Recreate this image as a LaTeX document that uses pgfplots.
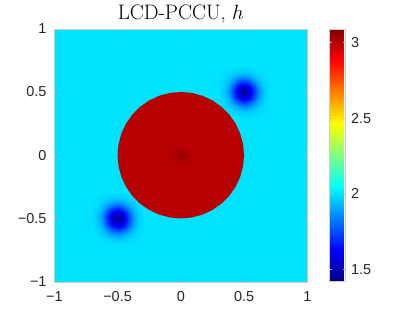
\documentclass[border=0pt]{standalone}
\usepackage{pgfplots}
\usepackage{pgfplotstable}
\pgfplotsset{compat=1.18}
\usepackage{fontspec}
\setsansfont{Liberation Sans}
\definecolor{diskred}{rgb}{0.7176,0,0}
\begin{document}
\begin{tikzpicture}
% Gaussian dip (offsets from its centre), value h
\pgfplotstableread{
dx dy h
-0.20 -0.20 2.000
-0.16 -0.20 2.000
-0.12 -0.20 1.998
-0.08 -0.20 1.995
-0.04 -0.20 1.991
0.00 -0.20 1.990
0.04 -0.20 1.991
0.08 -0.20 1.995
0.12 -0.20 1.998
0.16 -0.20 2.000
0.20 -0.20 2.000
-0.20 -0.16 2.000
-0.16 -0.16 1.997
-0.12 -0.16 1.990
-0.08 -0.16 1.978
-0.04 -0.16 1.964
0.00 -0.16 1.957
0.04 -0.16 1.964
0.08 -0.16 1.978
0.12 -0.16 1.990
0.16 -0.16 1.997
0.20 -0.16 2.000
-0.20 -0.12 1.998
-0.16 -0.12 1.990
-0.12 -0.12 1.969
-0.08 -0.12 1.931
-0.04 -0.12 1.889
0.00 -0.12 1.870
0.04 -0.12 1.889
0.08 -0.12 1.931
0.12 -0.12 1.969
0.16 -0.12 1.990
0.20 -0.12 1.998
-0.20 -0.08 1.995
-0.16 -0.08 1.978
-0.12 -0.08 1.931
-0.08 -0.08 1.847
-0.04 -0.08 1.753
0.00 -0.08 1.710
0.04 -0.08 1.753
0.08 -0.08 1.847
0.12 -0.08 1.931
0.16 -0.08 1.978
0.20 -0.08 1.995
-0.20 -0.04 1.991
-0.16 -0.04 1.964
-0.12 -0.04 1.889
-0.08 -0.04 1.753
-0.04 -0.04 1.601
0.00 -0.04 1.531
0.04 -0.04 1.601
0.08 -0.04 1.753
0.12 -0.04 1.889
0.16 -0.04 1.964
0.20 -0.04 1.991
-0.20 0.00 1.990
-0.16 0.00 1.957
-0.12 0.00 1.870
-0.08 0.00 1.710
-0.04 0.00 1.531
0.00 0.00 1.450
0.04 0.00 1.531
0.08 0.00 1.710
0.12 0.00 1.870
0.16 0.00 1.957
0.20 0.00 1.990
-0.20 0.04 1.991
-0.16 0.04 1.964
-0.12 0.04 1.889
-0.08 0.04 1.753
-0.04 0.04 1.601
0.00 0.04 1.531
0.04 0.04 1.601
0.08 0.04 1.753
0.12 0.04 1.889
0.16 0.04 1.964
0.20 0.04 1.991
-0.20 0.08 1.995
-0.16 0.08 1.978
-0.12 0.08 1.931
-0.08 0.08 1.847
-0.04 0.08 1.753
0.00 0.08 1.710
0.04 0.08 1.753
0.08 0.08 1.847
0.12 0.08 1.931
0.16 0.08 1.978
0.20 0.08 1.995
-0.20 0.12 1.998
-0.16 0.12 1.990
-0.12 0.12 1.969
-0.08 0.12 1.931
-0.04 0.12 1.889
0.00 0.12 1.870
0.04 0.12 1.889
0.08 0.12 1.931
0.12 0.12 1.969
0.16 0.12 1.990
0.20 0.12 1.998
-0.20 0.16 2.000
-0.16 0.16 1.997
-0.12 0.16 1.990
-0.08 0.16 1.978
-0.04 0.16 1.964
0.00 0.16 1.957
0.04 0.16 1.964
0.08 0.16 1.978
0.12 0.16 1.990
0.16 0.16 1.997
0.20 0.16 2.000
-0.20 0.20 2.000
-0.16 0.20 2.000
-0.12 0.20 1.998
-0.08 0.20 1.995
-0.04 0.20 1.991
0.00 0.20 1.990
0.04 0.20 1.991
0.08 0.20 1.995
0.12 0.20 1.998
0.16 0.20 2.000
0.20 0.20 2.000
}\diptable
% central peak of the disk
\pgfplotstableread{
x y h
-0.08 -0.08 3.000
-0.04 -0.08 3.000
0.00 -0.08 3.000
0.04 -0.08 3.000
0.08 -0.08 3.000
-0.08 -0.04 3.000
-0.04 -0.04 3.011
0.00 -0.04 3.030
0.04 -0.04 3.011
0.08 -0.04 3.000
-0.08 0.00 3.000
-0.04 0.00 3.030
0.00 0.00 3.080
0.04 0.00 3.030
0.08 0.00 3.000
-0.08 0.04 3.000
-0.04 0.04 3.011
0.00 0.04 3.030
0.04 0.04 3.011
0.08 0.04 3.000
-0.08 0.08 3.000
-0.04 0.08 3.000
0.00 0.08 3.000
0.04 0.08 3.000
0.08 0.08 3.000
}\peaktable
\pgfplotstableread{
x y h
-1 -1 2
1 -1 2
-1 1 2
1 1 2
}\bgtable
\begin{axis}[
  scale only axis, width=253bp, height=253bp,
  xmin=-1, xmax=1, ymin=-1, ymax=1,
  xtick={-1,-0.5,0,0.5,1}, ytick={-1,-0.5,0,0.5,1},
  xticklabels={−1,−0.5,0,0.5,1}, yticklabels={−1,−0.5,0,0.5,1},
  tick align=inside, major tick length=2.5bp,
  axis line style={gray!40}, tick style={gray!60},
  tick label style={font=\sffamily\fontsize{14.5}{16}\selectfont, text=black!85},
  xticklabel style={anchor=north, inner sep=0pt, yshift=-10bp},
  yticklabel style={anchor=east, inner sep=0pt, xshift=-7.6bp},
  title={LCD-PCCU, $h$},
  title style={at={(0.5,1)}, anchor=base, inner sep=0pt, yshift=3.7bp, font=\fontsize{21}{24}\selectfont},
  colormap/jet,
  point meta min=1.418, point meta max=3.091,
  colorbar,
  colorbar style={
    at={(parent axis.north east)}, anchor=north west, xshift=13.7bp,
    width=16bp,
    ytick={1.5,2,2.5,3}, yticklabels={1.5,2,2.5,3},
    yticklabel style={font=\sffamily\fontsize{14.5}{16}\selectfont, text=black!85, anchor=west, inner sep=0pt, xshift=5.4bp},
    axis line style={gray!40}, tick style={gray!60}, tick align=inside, major tick length=2.5bp,
  },
  axis on top,
]
\addplot[surf, shader=flat, point meta=explicit, mesh/rows=2, mesh/cols=2] table[x=x, y=y, meta=h] {\bgtable};
\addplot[surf, shader=interp, point meta=explicit, mesh/rows=11, mesh/cols=11] table[x expr=\thisrow{dx}+0.5, y expr=\thisrow{dy}+0.5, meta=h] {\diptable};
\addplot[surf, shader=interp, point meta=explicit, mesh/rows=11, mesh/cols=11] table[x expr=\thisrow{dx}-0.5, y expr=\thisrow{dy}-0.5, meta=h] {\diptable};
\addplot[draw=none, fill=diskred] coordinates {
(0.5000,0.0000) (0.4924,0.0868) (0.4698,0.1710) (0.4330,0.2500) (0.3830,0.3214) (0.3214,0.3830)
(0.2500,0.4330) (0.1710,0.4698) (0.0868,0.4924) (0.0000,0.5000) (-0.0868,0.4924) (-0.1710,0.4698)
(-0.2500,0.4330) (-0.3214,0.3830) (-0.3830,0.3214) (-0.4330,0.2500) (-0.4698,0.1710) (-0.4924,0.0868)
(-0.5000,0.0000) (-0.4924,-0.0868) (-0.4698,-0.1710) (-0.4330,-0.2500) (-0.3830,-0.3214) (-0.3214,-0.3830)
(-0.2500,-0.4330) (-0.1710,-0.4698) (-0.0868,-0.4924) (0.0000,-0.5000) (0.0868,-0.4924) (0.1710,-0.4698)
(0.2500,-0.4330) (0.3214,-0.3830) (0.3830,-0.3214) (0.4330,-0.2500) (0.4698,-0.1710) (0.4924,-0.0868)
} -- cycle;
\addplot[surf, shader=interp, point meta=explicit, mesh/rows=5, mesh/cols=5] table[x=x, y=y, meta=h] {\peaktable};
\end{axis}
\pgfresetboundingbox
\path[use as bounding box] (current axis.south west) ++(-54.3bp,-31.3bp) rectangle ++(393bp,313bp);
\end{tikzpicture}
\end{document}
